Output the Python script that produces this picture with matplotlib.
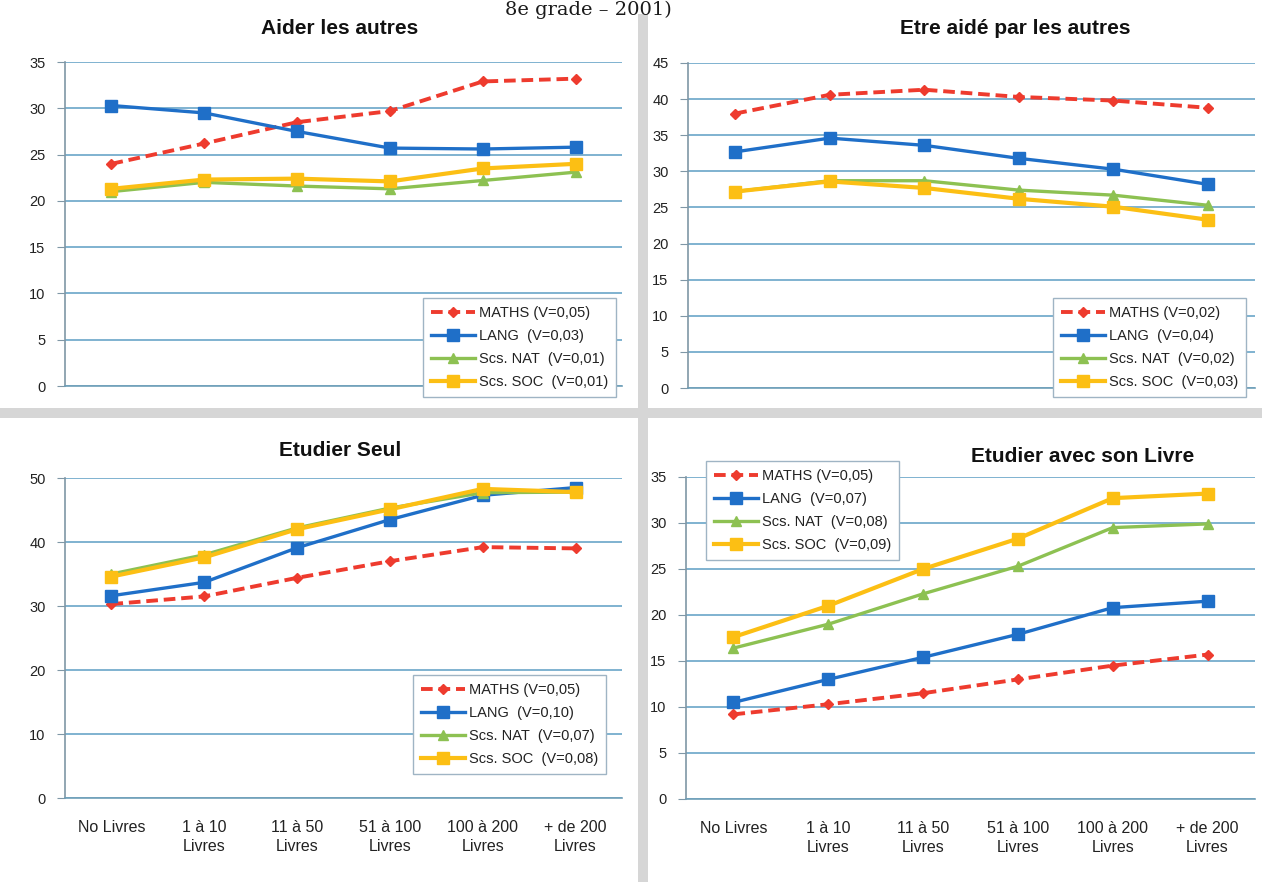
import matplotlib
matplotlib.use("Agg")
import matplotlib.pyplot as plt

plt.rcParams['font.family'] = ['Liberation Sans Narrow', 'Liberation Sans', 'DejaVu Sans']

categories = ["No Livres", "1 à 10\nLivres", "11 à 50\nLivres", "51 à 100\nLivres",
              "100 à 200\nLivres", "+ de 200\nLivres"]
series_names = ["MATHS", "LANG", "Scs. NAT", "Scs. SOC"]

# --- panel data ---
aider_titre = "Aider les autres"
aider_maths = [24.0, 26.2, 28.5, 29.7, 32.9, 33.2]
aider_lang = [30.3, 29.5, 27.5, 25.7, 25.6, 25.8]
aider_nat = [21.0, 22.0, 21.6, 21.3, 22.2, 23.1]
aider_soc = [21.3, 22.3, 22.4, 22.1, 23.5, 24.0]
aider_v = ["0,05", "0,03", "0,01", "0,01"]

aide_titre = "Etre aidé par les autres"
aide_maths = [38.0, 40.6, 41.3, 40.3, 39.8, 38.8]
aide_lang = [32.7, 34.6, 33.6, 31.8, 30.3, 28.2]
aide_nat = [27.2, 28.7, 28.7, 27.4, 26.7, 25.3]
aide_soc = [27.2, 28.6, 27.7, 26.2, 25.1, 23.3]
aide_v = ["0,02", "0,04", "0,02", "0,03"]

seul_titre = "Etudier Seul"
seul_maths = [30.3, 31.5, 34.4, 37.0, 39.2, 39.0]
seul_lang = [31.6, 33.7, 39.1, 43.5, 47.3, 48.5]
seul_nat = [35.0, 38.0, 42.2, 45.3, 47.7, 47.8]
seul_soc = [34.6, 37.6, 42.0, 45.1, 48.3, 47.8]
seul_v = ["0,05", "0,10", "0,07", "0,08"]

livre_titre = "Etudier avec son Livre"
livre_maths = [9.2, 10.3, 11.5, 13.0, 14.5, 15.7]
livre_lang = [10.5, 13.0, 15.4, 17.9, 20.8, 21.5]
livre_nat = [16.4, 19.0, 22.3, 25.3, 29.5, 29.9]
livre_soc = [17.6, 21.0, 25.0, 28.3, 32.7, 33.2]
livre_v = ["0,05", "0,07", "0,08", "0,09"]

W, H = 1262, 882
fig = plt.figure(figsize=(W / 100, H / 100), dpi=100)

def px(x0, y0, x1, y1):
    return [x0 / W, 1 - y1 / H, (x1 - x0) / W, (y1 - y0) / H]

# grey separators
fig.add_artist(plt.Rectangle((638 / W, 0), 10 / W, 1 - 14 / H, transform=fig.transFigure,
                             color="#d6d6d6", lw=0))
fig.add_artist(plt.Rectangle((0, 1 - 418 / H), 1, 10 / H, transform=fig.transFigure,
                             color="#d6d6d6", lw=0))

fig.text(505 / W, 1 - 1 / H, "8e grade – 2001)", family="DejaVu Serif", fontsize=14,
         ha="left", va="top", color="#1a1a1a")

styles = [
    dict(color="#ee3b2e", ls=(0, (3, 1.5)), marker="D", ms=5.5, lw=2.8),
    dict(color="#1f6fc8", ls="-", marker="s", ms=8, lw=2.4),
    dict(color="#8dc152", ls="-", marker="^", ms=7, lw=2.4),
    dict(color="#fcbf14", ls="-", marker="s", ms=8, lw=3.0),
]

def panel(rect, title, title_xy, data, vals, ymax, ystep, leg_xy, xlabels):
    ax = fig.add_axes(px(*rect))
    x = range(len(categories))
    for name, ys, v, st in zip(series_names, data, vals, styles):
        gap = "  " if name != "MATHS" else " "
        ax.plot(x, ys, label=f"{name}{gap}(V={v})", color=st["color"], ls=st["ls"],
                lw=st["lw"], marker=st["marker"], ms=st["ms"], mec=st["color"],
                mfc=st["color"], zorder=3)
    ax.set_xlim(-0.5, len(categories) - 0.5)
    ax.set_ylim(0, ymax)
    ax.set_yticks(range(0, ymax + 1, ystep))
    ax.yaxis.grid(True, color="#6aa5c8", lw=1.2)
    ax.set_axisbelow(True)
    for s in ["top", "right"]:
        ax.spines[s].set_visible(False)
    ax.spines["left"].set_color("#7f97a6")
    ax.spines["bottom"].set_color("#6f9fb8")
    ax.spines["left"].set_linewidth(1.2)
    ax.spines["bottom"].set_linewidth(1.2)
    ax.tick_params(axis="y", length=6, color="#7f97a6", labelsize=10.5, pad=8,
                   labelcolor="#222222")
    ax.tick_params(axis="x", length=0, labelsize=11.5, pad=16, labelcolor="#222222")
    ax.set_xticks(list(x))
    if xlabels:
        ax.set_xticklabels(categories, linespacing=1.3)
    else:
        ax.set_xticklabels([])
    fig.text(title_xy[0] / W, 1 - title_xy[1] / H, title, fontsize=15, fontweight="bold",
             ha="center", va="center", color="#111111")
    leg = ax.legend(loc="upper left", bbox_to_anchor=(leg_xy[0] / W, 1 - leg_xy[1] / H),
                    bbox_transform=fig.transFigure, fontsize=10.5, numpoints=1,
                    handlelength=3.0, handletextpad=0.3, borderpad=0.55,
                    borderaxespad=0, labelspacing=0.62, fancybox=False, framealpha=1)
    leg.get_frame().set_edgecolor("#9fb4c4")
    leg.get_frame().set_linewidth(1.0)
    for t in leg.get_texts():
        t.set_color("#222222")
    return ax

panel((65, 62, 622, 386), aider_titre, (340, 28),
      [aider_maths, aider_lang, aider_nat, aider_soc], aider_v, 35, 5, (423, 298), False)
panel((688, 63, 1255, 388), aide_titre, (1015, 28),
      [aide_maths, aide_lang, aide_nat, aide_soc], aide_v, 45, 5, (1053, 298), False)
panel((65, 478, 622, 798), seul_titre, (340, 451),
      [seul_maths, seul_lang, seul_nat, seul_soc], seul_v, 50, 10, (413, 675), True)
panel((686, 477, 1255, 799), livre_titre, (1083, 456),
      [livre_maths, livre_lang, livre_nat, livre_soc], livre_v, 35, 5, (706, 461), True)

fig.savefig("out.png", dpi=100)
